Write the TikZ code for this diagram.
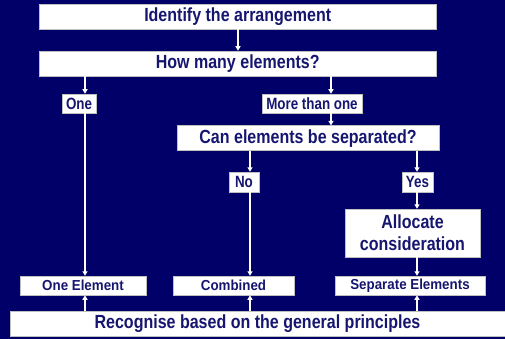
\documentclass[tikz,border=0pt]{standalone}
\usepackage{fontspec}
\usetikzlibrary{arrows.meta}
\newfontfamily\cfbig{Liberation Sans}[FakeStretch=0.843]
\newfontfamily\cflbl{Liberation Sans}[FakeStretch=0.82]
\newfontfamily\cfend{Liberation Sans}[FakeStretch=0.92]
\definecolor{bgnavy}{RGB}{0,0,104}
\definecolor{txnavy}{RGB}{22,22,112}
\tikzset{
  box/.style={draw=gray!50, line width=0.5pt, fill=white, inner sep=0pt, text=txnavy, align=center},
  bigtxt/.style={box, font=\cfbig\bfseries\fontsize{19}{22}\selectfont},
  lbl/.style={box, font=\cflbl\bfseries\fontsize{16.3}{18}\selectfont},
  endtxt/.style={box, font=\cfend\bfseries\fontsize{14.5}{16}\selectfont},
  arr/.style={white, line width=1.2pt, -{Triangle[width=5pt,length=4.5pt]}}
}
\begin{document}
\begin{tikzpicture}[x=1pt,y=-1pt]
\fill[bgnavy] (0,0) rectangle (505,339);
\useasboundingbox (0,0) rectangle (505,339);
\coordinate (cA) at (238,0);
\coordinate (cB) at (85,0);
\coordinate (cC) at (331,0);
\coordinate (cD) at (250,0);
\coordinate (cE) at (417,0);
\node[bigtxt, minimum width=397pt, minimum height=24.5pt] (ident) at (237.7,17) {Identify the arrangement};
\node[bigtxt, minimum width=397pt, minimum height=25pt] (howmany) at (237.7,63.5) {How many elements?};
\node[lbl, minimum width=34pt, minimum height=19pt] (one) at (79,103.5) {One};
\node[lbl, minimum width=100pt, minimum height=19pt] (more) at (312,103.5) {More than one};
\node[bigtxt, minimum width=262pt, minimum height=25pt] (cansep) at (308,138.2) {Can elements be separated?};
\node[lbl, minimum width=30pt, minimum height=20pt] (no) at (244,182) {No};
\node[lbl, minimum width=31pt, minimum height=20pt] (yes) at (417.5,182) {Yes};
\node[bigtxt, minimum width=135pt, minimum height=48pt] (alloc) at (412.5,233) {Allocate\\consideration};
\node[endtxt, minimum width=126pt, minimum height=19pt] (oneel) at (83,285.5) {One Element};
\node[endtxt, minimum width=121pt, minimum height=19pt] (comb) at (233.5,285.5) {Combined};
\node[endtxt, minimum width=150pt, minimum height=19pt] (sepel) at (410,285.5) {Separate Elements};
\node[bigtxt, minimum width=495pt, minimum height=25.5pt] (recog) at (257.5,323.5) {Recognise based on the general principles};
\draw[arr] (ident.south -| cA) -- (howmany.north -| cA);
\draw[arr] (howmany.south -| cB) -- (one.north -| cB);
\draw[arr] (howmany.south -| cC) -- (more.north -| cC);
\draw[arr] (more.south -| cC) -- (cansep.north -| cC);
\draw[arr] (cansep.south -| cD) -- (no.north -| cD);
\draw[arr] (cansep.south -| cE) -- (yes.north -| cE);
\draw[arr] (yes.south -| cE) -- (alloc.north -| cE);
\draw[arr] (one.south -| cB) -- (oneel.north -| cB);
\draw[arr] (no.south -| cD) -- (comb.north -| cD);
\draw[arr] (alloc.south -| cE) -- (sepel.north -| cE);
\draw[arr] (recog.north -| cB) -- (oneel.south -| cB);
\draw[arr] (recog.north -| cD) -- (comb.south -| cD);
\draw[arr] (recog.north -| cE) -- (sepel.south -| cE);
\end{tikzpicture}
\end{document}
